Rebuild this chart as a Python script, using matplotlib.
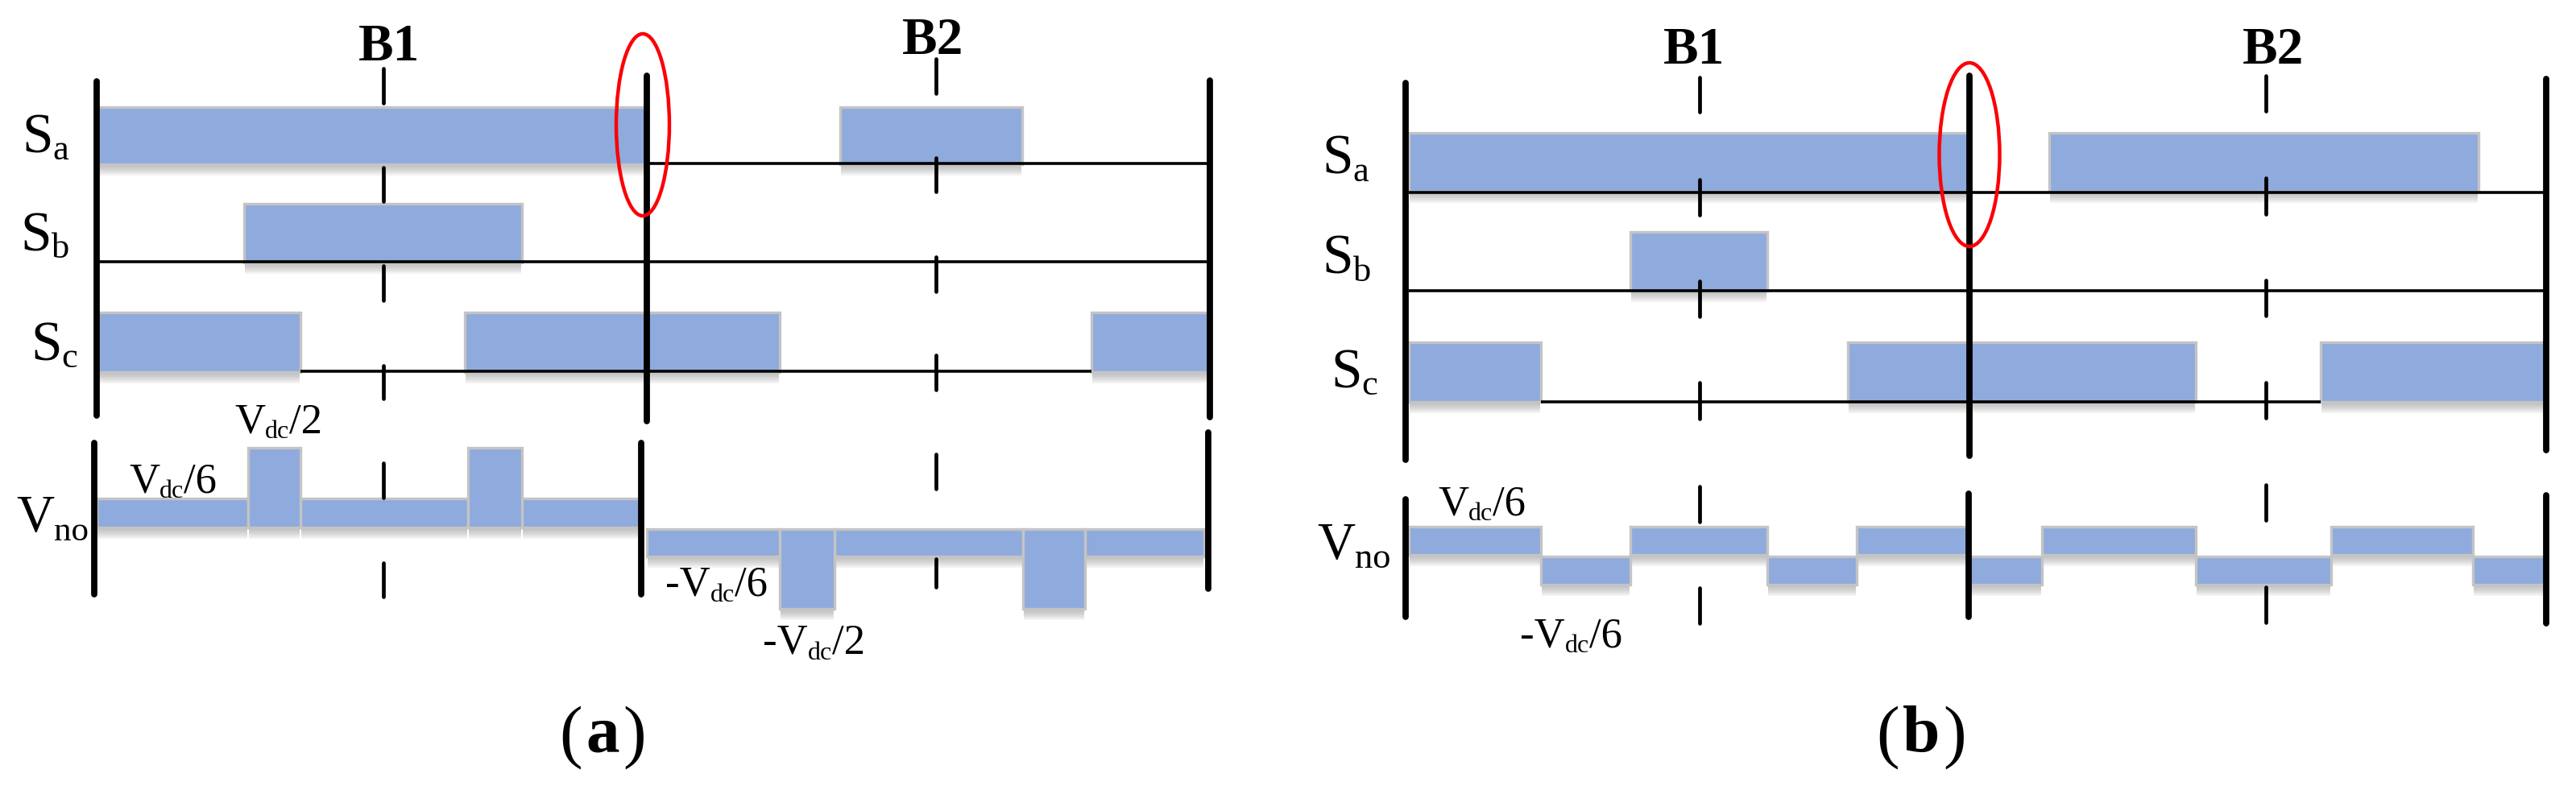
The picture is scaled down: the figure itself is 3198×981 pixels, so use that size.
import matplotlib
matplotlib.use('Agg')
import matplotlib.pyplot as plt
from matplotlib.patches import Rectangle, Ellipse

W, H = 3198, 981
plt.rcParams['font.family'] = ['Liberation Serif', 'DejaVu Serif']

# everything is read off the picture, in picture pixels
# panel (a)
a_sa_on = [(122, 803), (1043, 1269)]
a_sb_on = [(303, 648)]
a_sc_on = [(122, 373), (577, 968), (1355, 1500)]
a_sa_level = (133, 204)
a_sb_level = (253, 326)
a_sc_level = (388, 462)
a_sa_base = (803, 1500, 203)
a_sb_base = (122, 1500, 325)
a_sc_base = (373, 1355, 461)
a_vno_x = [(120, 308), (373, 581), (648, 796), (308, 373), (581, 648),
           (803, 968), (1036, 1270), (1347, 1495), (968, 1036), (1270, 1347)]
a_vno_top = [619, 619, 619, 556, 556, 657, 657, 657, 657, 657]
a_vno_bottom = [655, 655, 655, 655, 655, 691, 691, 691, 756, 756]
a_thick = [(120, 101, 516), (803, 94, 523), (1502, 100, 518),
           (117, 550, 738), (796, 550, 738), (1500, 537, 731)]
a_dash_b1 = (476, [(85, 128), (208, 250), (330, 373), (454, 495), (575, 618), (699, 741)])
a_dash_b2 = (1162, [(73, 116), (196, 238), (319, 362), (441, 484), (564, 607), (694, 729)])
a_ellipse = (798, 155, 66, 226)

# panel (b)
b_sa_on = [(1749, 2445), (2544, 3077)]
b_sb_on = [(2024, 2194)]
b_sc_on = [(1749, 1913), (2294, 2726), (2881, 3159)]
b_sa_level = (165, 238)
b_sb_level = (288, 361)
b_sc_level = (425, 499)
b_sa_base = (1749, 3159, 239)
b_sb_base = (1749, 3159, 361)
b_sc_base = (1913, 2881, 499)
b_vno_x = [(1749, 1913), (1913, 2024), (2024, 2194), (2194, 2305), (2305, 2445),
           (2445, 2535), (2535, 2726), (2726, 2894), (2894, 3070), (3070, 3159)]
b_vno_top = [654, 691, 654, 691, 654, 691, 654, 691, 654, 691]
b_vno_bottom = [689, 726, 689, 726, 689, 726, 689, 726, 689, 726]
b_thick = [(1745, 103, 571), (2445, 94, 566), (3161, 98, 559),
           (1745, 620, 766), (2444, 613, 766), (3161, 615, 774)]
b_dash_b1 = (2110, [(96, 139), (223, 267), (349, 393), (475, 520), (604, 648), (730, 774)])
b_dash_b2 = (2813, [(94, 138), (221, 266), (348, 392), (475, 519), (602, 646), (729, 773)])
b_ellipse = (2445, 192, 75, 228)

FILL = '#8faadc'
EDGE = '#c4c4c4'

fig = plt.figure(figsize=(W / 100, H / 100), dpi=100)
ax = fig.add_axes([0, 0, 1, 1])
ax.set_xlim(0, W)
ax.set_ylim(H, 0)
ax.axis('off')
renderer = fig.canvas.get_renderer()


def bar(x0, x1, top, bottom):
    # soft shadow under the box, fakes the powerpoint one
    for i in range(1, 8):
        ax.add_patch(Rectangle((x0 + 1, top), x1 - x0 - 2, bottom - top + i * 2,
                               fc='#808080', ec='none', alpha=0.09, zorder=1))
    ax.add_patch(Rectangle((x0, top), x1 - x0, bottom - top, fc=FILL, ec=EDGE,
                           lw=2.4, zorder=2))


def switch_row(spans, level, base):
    ax.plot([base[0], base[1]], [base[2], base[2]], color='black', lw=2.6,
            zorder=3, solid_capstyle='butt')
    for x0, x1 in spans:
        bar(x0, x1, level[0], level[1])


def chain(x, y, parts):
    # parts = (text, size, drop), each one starts where the one before ended
    for s, size, drop in parts:
        t = ax.text(x, y + drop, s, fontsize=size, ha='left', va='baseline',
                    color='black', zorder=6)
        x = ax.transData.inverted().transform(
            (t.get_window_extent(renderer).x1, 0))[0]


def panel(rows, vno_x, vno_top, vno_bottom, thick, dashes, ell):
    for spans, level, base in rows:
        switch_row(spans, level, base)
    for (x0, x1), t, b in zip(vno_x, vno_top, vno_bottom):
        bar(x0, x1, t, b)
    for x, y0, y1 in thick:
        ax.plot([x, x], [y0, y1], color='black', lw=5.6, zorder=4,
                solid_capstyle='round')
    for x, segs in dashes:
        for y0, y1 in segs:
            ax.plot([x, x], [y0, y1], color='black', lw=3.4, zorder=4,
                    solid_capstyle='round')
    ax.add_patch(Ellipse((ell[0], ell[1]), ell[2], ell[3], fc='none',
                         ec='#fb0007', lw=3.2, zorder=5))


panel([(a_sa_on, a_sa_level, a_sa_base), (a_sb_on, a_sb_level, a_sb_base),
       (a_sc_on, a_sc_level, a_sc_base)],
      a_vno_x, a_vno_top, a_vno_bottom, a_thick, [a_dash_b1, a_dash_b2], a_ellipse)
panel([(b_sa_on, b_sa_level, b_sa_base), (b_sb_on, b_sb_level, b_sb_base),
       (b_sc_on, b_sc_level, b_sc_base)],
      b_vno_x, b_vno_top, b_vno_bottom, b_thick, [b_dash_b1, b_dash_b2], b_ellipse)

# headers
for x, y, s in [(483, 75, 'B1'), (1158, 67, 'B2'), (2103, 79, 'B1'), (2822, 79, 'B2')]:
    ax.text(x, y, s, fontsize=47, fontweight='bold', ha='center', va='baseline', zorder=6)

# row labels
big, sub = 50, 32
chain(27, 189, [('S', big, 0), ('a', sub, 9)])
chain(25, 311, [('S', big, 0), ('b', sub, 9)])
chain(38, 447, [('S', big, 0), ('c', sub, 9)])
chain(20, 660, [('V', 47, 0), ('no', 31, 11)])
chain(1641, 216, [('S', big, 0), ('a', sub, 9)])
chain(1641, 340, [('S', big, 0), ('b', sub, 9)])
chain(1652, 481, [('S', big, 0), ('c', sub, 9)])
chain(1635, 694, [('V', 47, 0), ('no', 32, 11)])

# level labels
v, d = 38, 23
chain(291, 538, [('V', v, 0), ('dc', d, 6), ('/2', v, 0)])
chain(160, 612, [('V', v, 0), ('dc', d, 6), ('/6', v, 0)])
chain(826, 740, [('-V', v, 0), ('dc', d, 7), ('/6', v, 0)])
chain(947, 812, [('-V', v, 0), ('dc', d, 7), ('/2', v, 0)])
chain(1785, 640, [('V', v, 0), ('dc', d, 6), ('/6', v, 0)])
chain(1887, 803, [('-V', v, 0), ('dc', d, 7), ('/6', v, 0)])

# captions, the letter is bold and the brackets are not
for x, letter, w in [(748, 'a', 25), (2385, 'b', 27)]:
    ax.text(x - w, 936, '(', fontsize=62, ha='right', va='baseline')
    ax.text(x, 933, letter, fontsize=60, fontweight='bold', ha='center', va='baseline')
    ax.text(x + w, 936, ')', fontsize=62, ha='left', va='baseline')

fig.savefig('out.png', dpi=100)
